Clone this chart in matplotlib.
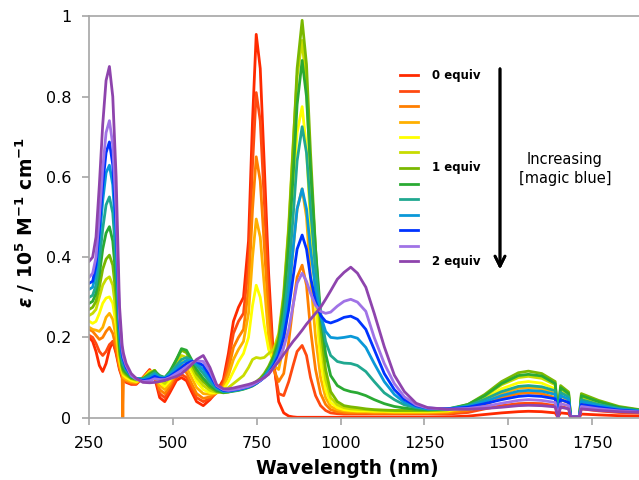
import matplotlib
matplotlib.use('Agg')
import matplotlib.pyplot as plt
from matplotlib.lines import Line2D

# wavelength grid (nm) shared by every trace
wl = [250, 260, 270, 280, 290, 300, 310, 320, 330, 340, 348, 350, 352,
      360, 375, 390, 410, 430, 445, 460, 475, 490, 510,
      525, 540, 555, 570, 590, 610, 630, 650,
      665, 680, 695, 710, 725, 737, 748, 760, 772, 785,
      800, 815, 830, 845, 858, 870, 885, 898, 910, 925,
      940, 955, 970, 990, 1010, 1030, 1050, 1075, 1100, 1130,
      1160, 1190, 1225, 1260, 1320, 1380, 1430, 1480, 1530, 1560,
      1600, 1640, 1648, 1656, 1680, 1686, 1712, 1718, 1770, 1830, 1900]

# epsilon / 1e5 M-1 cm-1, 0 -> 2 equiv in 13 steps
eps_0 = [0.2, 0.19, 0.165, 0.13, 0.115, 0.135, 0.17, 0.19, 0.16, 0.12, 0.1, 0.097, 0.094,
         0.088, 0.083, 0.083, 0.1, 0.12, 0.1, 0.05, 0.04, 0.062, 0.093,
         0.1, 0.092, 0.065, 0.04, 0.03, 0.045, 0.065, 0.095,
         0.16, 0.24, 0.275, 0.3, 0.44, 0.74, 0.955, 0.87, 0.63, 0.36,
         0.14, 0.04, 0.012, 0.004, 0.002, 0.001, 0.001, 0.001, 0.001, 0.001,
         0.001, 0.001, 0.001, 0.001, 0.001, 0.001, 0.001, 0.001, 0.001, 0.001,
         0.001, 0.001, 0.001, 0.001, 0.002, 0.004, 0.008, 0.012, 0.015, 0.016,
         0.015, 0.012, 0.001, 0.012, 0.01, 0.001, 0.001, 0.009, 0.007, 0.005, 0.004]
eps_1 = [0.205, 0.2, 0.185, 0.165, 0.155, 0.165, 0.182, 0.19, 0.165, 0.125, 0.105, 0.1, 0.097,
         0.09, 0.085, 0.085, 0.1, 0.118, 0.105, 0.06, 0.05, 0.07, 0.1,
         0.108, 0.1, 0.075, 0.05, 0.04, 0.048, 0.062, 0.088,
         0.14, 0.21, 0.24, 0.26, 0.38, 0.63, 0.81, 0.74, 0.54, 0.31,
         0.13, 0.06, 0.055, 0.09, 0.13, 0.165, 0.18, 0.155, 0.1, 0.055,
         0.03, 0.018, 0.012, 0.01, 0.009, 0.009, 0.009, 0.009, 0.009, 0.009,
         0.009, 0.009, 0.009, 0.009, 0.009, 0.013, 0.022, 0.03, 0.035, 0.036,
         0.035, 0.03, 0.002, 0.028, 0.023, 0.002, 0.002, 0.022, 0.017, 0.013, 0.011]
eps_2 = [0.22, 0.215, 0.205, 0.195, 0.2, 0.215, 0.225, 0.21, 0.175, 0.125, 0.105, 0.0, 0.098,
         0.092, 0.087, 0.086, 0.098, 0.115, 0.108, 0.07, 0.06, 0.078, 0.11,
         0.122, 0.112, 0.085, 0.06, 0.048, 0.052, 0.062, 0.08,
         0.12, 0.175, 0.2, 0.22, 0.32, 0.52, 0.65, 0.59, 0.43, 0.25,
         0.12, 0.09, 0.11, 0.19, 0.28, 0.35, 0.38, 0.33, 0.22, 0.12,
         0.06, 0.033, 0.02, 0.015, 0.013, 0.012, 0.012, 0.012, 0.011, 0.011,
         0.011, 0.011, 0.011, 0.011, 0.012, 0.018, 0.032, 0.05, 0.06, 0.062,
         0.06, 0.05, 0.002, 0.045, 0.037, 0.002, 0.002, 0.034, 0.026, 0.018, 0.014]
eps_3 = [0.225, 0.22, 0.218, 0.215, 0.225, 0.25, 0.26, 0.245, 0.2, 0.135, 0.11, 0.105, 0.1,
         0.095, 0.09, 0.088, 0.098, 0.116, 0.112, 0.08, 0.07, 0.085, 0.118,
         0.132, 0.125, 0.1, 0.075, 0.06, 0.058, 0.062, 0.075,
         0.105, 0.145, 0.17, 0.19, 0.26, 0.4, 0.495, 0.45, 0.33, 0.2,
         0.13, 0.12, 0.18, 0.3, 0.42, 0.52, 0.57, 0.5, 0.35, 0.2,
         0.1, 0.05, 0.028, 0.02, 0.017, 0.016, 0.015, 0.015, 0.014, 0.014,
         0.013, 0.013, 0.013, 0.013, 0.015, 0.023, 0.04, 0.06, 0.073, 0.075,
         0.072, 0.06, 0.002, 0.054, 0.044, 0.002, 0.002, 0.04, 0.03, 0.02, 0.015]
eps_4 = [0.24, 0.235, 0.24, 0.26, 0.285, 0.298, 0.301, 0.285, 0.23, 0.145, 0.115, 0.11, 0.106,
         0.1, 0.093, 0.09, 0.097, 0.114, 0.116, 0.088, 0.078, 0.092, 0.125,
         0.142, 0.138, 0.115, 0.09, 0.07, 0.062, 0.062, 0.07,
         0.09, 0.115, 0.14, 0.16, 0.2, 0.28, 0.33, 0.3, 0.23, 0.17,
         0.14, 0.17, 0.26, 0.41, 0.57, 0.71, 0.775, 0.67, 0.48, 0.29,
         0.14, 0.07, 0.038, 0.025, 0.02, 0.018, 0.017, 0.017, 0.016, 0.016,
         0.015, 0.015, 0.015, 0.015, 0.017, 0.027, 0.047, 0.072, 0.087, 0.09,
         0.086, 0.072, 0.002, 0.064, 0.052, 0.002, 0.002, 0.047, 0.035, 0.023, 0.017]
eps_5 = [0.255, 0.26, 0.27, 0.3, 0.33, 0.345, 0.351, 0.33, 0.26, 0.155, 0.12, 0.115, 0.11,
         0.105, 0.097, 0.093, 0.097, 0.112, 0.118, 0.095, 0.085, 0.1, 0.135,
         0.155, 0.15, 0.125, 0.1, 0.08, 0.068, 0.063, 0.065,
         0.075, 0.085, 0.095, 0.105, 0.125, 0.145, 0.15, 0.148, 0.15, 0.16,
         0.17, 0.21, 0.31, 0.48, 0.68, 0.85, 0.94, 0.82, 0.6, 0.37,
         0.19, 0.095, 0.05, 0.032, 0.025, 0.022, 0.021, 0.02, 0.019, 0.018,
         0.017, 0.017, 0.017, 0.017, 0.019, 0.03, 0.053, 0.082, 0.1, 0.103,
         0.098, 0.082, 0.002, 0.072, 0.058, 0.002, 0.002, 0.052, 0.038, 0.025, 0.018]
eps_6 = [0.27, 0.275, 0.29, 0.325, 0.37, 0.395, 0.405, 0.38, 0.3, 0.165, 0.125, 0.12, 0.115,
         0.108, 0.098, 0.095, 0.097, 0.11, 0.118, 0.1, 0.092, 0.11, 0.145,
         0.168, 0.162, 0.135, 0.11, 0.09, 0.075, 0.065, 0.062,
         0.064, 0.068, 0.072, 0.075, 0.08, 0.085, 0.09, 0.098, 0.11, 0.128,
         0.155, 0.2, 0.3, 0.47, 0.67, 0.87, 0.99, 0.88, 0.66, 0.42,
         0.23, 0.12, 0.065, 0.04, 0.03, 0.027, 0.025, 0.022, 0.02, 0.019,
         0.018, 0.018, 0.018, 0.018, 0.02, 0.033, 0.058, 0.09, 0.112, 0.116,
         0.11, 0.09, 0.002, 0.08, 0.064, 0.002, 0.002, 0.06, 0.043, 0.028, 0.019]
eps_7 = [0.285, 0.29, 0.31, 0.355, 0.42, 0.46, 0.476, 0.44, 0.34, 0.18, 0.13, 0.125, 0.12,
         0.112, 0.1, 0.097, 0.097, 0.108, 0.116, 0.105, 0.1, 0.115, 0.145,
         0.172, 0.168, 0.145, 0.12, 0.098, 0.08, 0.068, 0.063,
         0.064, 0.066, 0.068, 0.071, 0.075, 0.079, 0.085, 0.093, 0.105, 0.122,
         0.15, 0.19, 0.28, 0.43, 0.6, 0.78, 0.89, 0.8, 0.62, 0.42,
         0.26, 0.16, 0.105, 0.08, 0.07, 0.065, 0.062, 0.055, 0.045, 0.035,
         0.028, 0.024, 0.021, 0.02, 0.022, 0.033, 0.055, 0.085, 0.105, 0.108,
         0.104, 0.085, 0.002, 0.075, 0.06, 0.002, 0.002, 0.055, 0.04, 0.026, 0.018]
eps_8 = [0.3, 0.305, 0.33, 0.39, 0.47, 0.53, 0.55, 0.51, 0.39, 0.2, 0.14, 0.135, 0.13,
         0.118, 0.103, 0.098, 0.096, 0.104, 0.112, 0.103, 0.1, 0.11, 0.13,
         0.145, 0.15, 0.143, 0.13, 0.11, 0.088, 0.072, 0.065,
         0.065, 0.067, 0.069, 0.072, 0.076, 0.08, 0.085, 0.093, 0.103, 0.118,
         0.14, 0.175, 0.245, 0.36, 0.5, 0.64, 0.725, 0.66, 0.52, 0.37,
         0.26, 0.19, 0.155, 0.14, 0.136, 0.135, 0.13, 0.115, 0.09, 0.062,
         0.045, 0.032, 0.025, 0.021, 0.022, 0.03, 0.046, 0.065, 0.078, 0.08,
         0.077, 0.067, 0.002, 0.063, 0.052, 0.002, 0.002, 0.045, 0.033, 0.023, 0.017]
eps_9 = [0.32, 0.325, 0.36, 0.44, 0.54, 0.61, 0.629, 0.58, 0.44, 0.22, 0.15, 0.145, 0.14,
         0.122, 0.104, 0.098, 0.094, 0.1, 0.108, 0.1, 0.099, 0.107, 0.122,
         0.135, 0.143, 0.142, 0.135, 0.12, 0.095, 0.075, 0.066,
         0.066, 0.068, 0.07, 0.073, 0.077, 0.081, 0.086, 0.093, 0.102, 0.115,
         0.135, 0.165, 0.22, 0.31, 0.42, 0.52, 0.57, 0.52, 0.42, 0.32,
         0.255, 0.215, 0.2, 0.198, 0.2, 0.203, 0.198, 0.175, 0.135, 0.09,
         0.058, 0.038, 0.027, 0.022, 0.022, 0.028, 0.04, 0.055, 0.066, 0.068,
         0.066, 0.058, 0.002, 0.055, 0.046, 0.002, 0.002, 0.04, 0.03, 0.021, 0.016]
eps_10 = [0.335, 0.34, 0.38, 0.47, 0.58, 0.66, 0.687, 0.63, 0.48, 0.24, 0.16, 0.15, 0.145,
          0.125, 0.105, 0.097, 0.092, 0.096, 0.103, 0.098, 0.097, 0.103, 0.115,
          0.125, 0.135, 0.14, 0.14, 0.13, 0.105, 0.078, 0.068,
          0.067, 0.069, 0.071, 0.074, 0.077, 0.081, 0.086, 0.092, 0.1, 0.11,
          0.13, 0.155, 0.2, 0.27, 0.35, 0.42, 0.455, 0.42, 0.35, 0.29,
          0.255, 0.24, 0.236, 0.242, 0.25, 0.253, 0.245, 0.22, 0.17, 0.11,
          0.07, 0.045, 0.03, 0.024, 0.022, 0.026, 0.035, 0.045, 0.053, 0.055,
          0.053, 0.047, 0.002, 0.045, 0.038, 0.002, 0.002, 0.033, 0.026, 0.019, 0.015]
eps_11 = [0.35, 0.36, 0.4, 0.5, 0.62, 0.71, 0.74, 0.68, 0.52, 0.25, 0.17, 0.16, 0.15,
          0.13, 0.105, 0.096, 0.09, 0.092, 0.097, 0.095, 0.095, 0.1, 0.11,
          0.118, 0.127, 0.136, 0.142, 0.14, 0.115, 0.08, 0.07,
          0.068, 0.07, 0.072, 0.075, 0.078, 0.082, 0.087, 0.093, 0.1, 0.11,
          0.125, 0.145, 0.175, 0.22, 0.28, 0.335, 0.36, 0.34, 0.31, 0.28,
          0.265, 0.26, 0.263, 0.278, 0.29, 0.295, 0.288, 0.265, 0.2, 0.135,
          0.085, 0.052, 0.032, 0.024, 0.021, 0.023, 0.028, 0.036, 0.043, 0.045,
          0.043, 0.038, 0.002, 0.035, 0.03, 0.002, 0.002, 0.028, 0.022, 0.017, 0.014]
eps_12 = [0.39, 0.4, 0.45, 0.58, 0.73, 0.84, 0.875, 0.8, 0.6, 0.28, 0.18, 0.17, 0.16,
          0.135, 0.11, 0.098, 0.088, 0.087, 0.088, 0.09, 0.093, 0.097, 0.103,
          0.11, 0.12, 0.132, 0.145, 0.155, 0.125, 0.082, 0.072,
          0.072, 0.074, 0.077, 0.08, 0.083, 0.086, 0.09, 0.095, 0.1, 0.108,
          0.125, 0.14, 0.158, 0.175, 0.19, 0.202, 0.218, 0.233, 0.245, 0.26,
          0.275, 0.295, 0.316, 0.345, 0.362, 0.375, 0.36, 0.325, 0.26, 0.177,
          0.106, 0.065, 0.036, 0.025, 0.021, 0.021, 0.023, 0.026, 0.03, 0.031,
          0.03, 0.027, 0.002, 0.026, 0.022, 0.002, 0.002, 0.022, 0.018, 0.015, 0.013]

series = [eps_0, eps_1, eps_2, eps_3, eps_4, eps_5, eps_6,
          eps_7, eps_8, eps_9, eps_10, eps_11, eps_12]
colors = ['#ff2a00', '#ff4a10', '#ff7f00', '#ffb000', '#ffff00', '#c8dc00', '#7ab800',
          '#2aaa33', '#20a890', '#0a98d8', '#0033ff', '#a073e6', '#8e44ad']
legend_labels = ['0 equiv', '', '', '', '', '', '1 equiv', '', '', '', '', '', '2 equiv']

W, H = 639, 480
fig = plt.figure(figsize=(W / 100, H / 100), dpi=100)
ax = fig.add_axes([89.3 / W, 1 - 417.7 / H, 1 - 89.3 / W, (417.7 - 16.3) / H])

for y, c in zip(series, colors):
    ax.plot(wl, y, color=c, lw=2, solid_joinstyle='round')

ax.set_xlim(250, 1890)
ax.set_ylim(0, 1)
ax.set_xticks([250, 500, 750, 1000, 1250, 1500, 1750])
ax.set_yticks([0, 0.2, 0.4, 0.6, 0.8, 1])
ax.set_yticklabels(['0', '0.2', '0.4', '0.6', '0.8', '1'])

grey = '#a6a6a6'
for s in ['left', 'bottom', 'top']:
    ax.spines[s].set_color(grey)
    ax.spines[s].set_linewidth(1.2)
ax.spines['right'].set_visible(False)
ax.tick_params(direction='out', length=5, width=1.2, color=grey,
               labelsize=11.5, pad=8)

plt.rcParams['mathtext.fontset'] = 'custom'
plt.rcParams['mathtext.bf'] = 'DejaVu Sans:bold'
plt.rcParams['mathtext.it'] = 'DejaVu Sans:italic:bold'
plt.rcParams['mathtext.default'] = 'bf'

fig.text(347 / W, 1 - 468 / H, 'Wavelength (nm)', ha='center', va='center',
         fontsize=13.5, fontweight='bold')
fig.text(25 / W, 1 - 223 / H,
         r'$\mathit{\varepsilon}$ / 10$^{5}$ M$^{-1}$ cm$^{-1}$',
         rotation=90, ha='center', va='center', fontsize=13.5, fontweight='bold')

# hand-made legend on the right
for i, (c, lab) in enumerate(zip(colors, legend_labels)):
    yy = 1 - (75 + i * 15.5) / H
    fig.add_artist(Line2D([400 / W, 418 / W], [yy, yy], color=c, lw=2,
                          transform=fig.transFigure))
    if lab:
        fig.text(432 / W, yy, lab, ha='left', va='center', fontsize=8.5,
                 fontweight='bold')

fig.add_artist(plt.annotate('', xy=(500 / W, 1 - 272 / H), xytext=(500 / W, 1 - 66 / H),
                            xycoords='figure fraction',
                            arrowprops=dict(arrowstyle='->', lw=2, color='black',
                                            mutation_scale=18)))
fig.text(565 / W, 1 - 169 / H, 'Increasing\n[magic blue]', ha='center', va='center',
         fontsize=10.5, linespacing=1.35)

fig.savefig('out.png', dpi=100)
